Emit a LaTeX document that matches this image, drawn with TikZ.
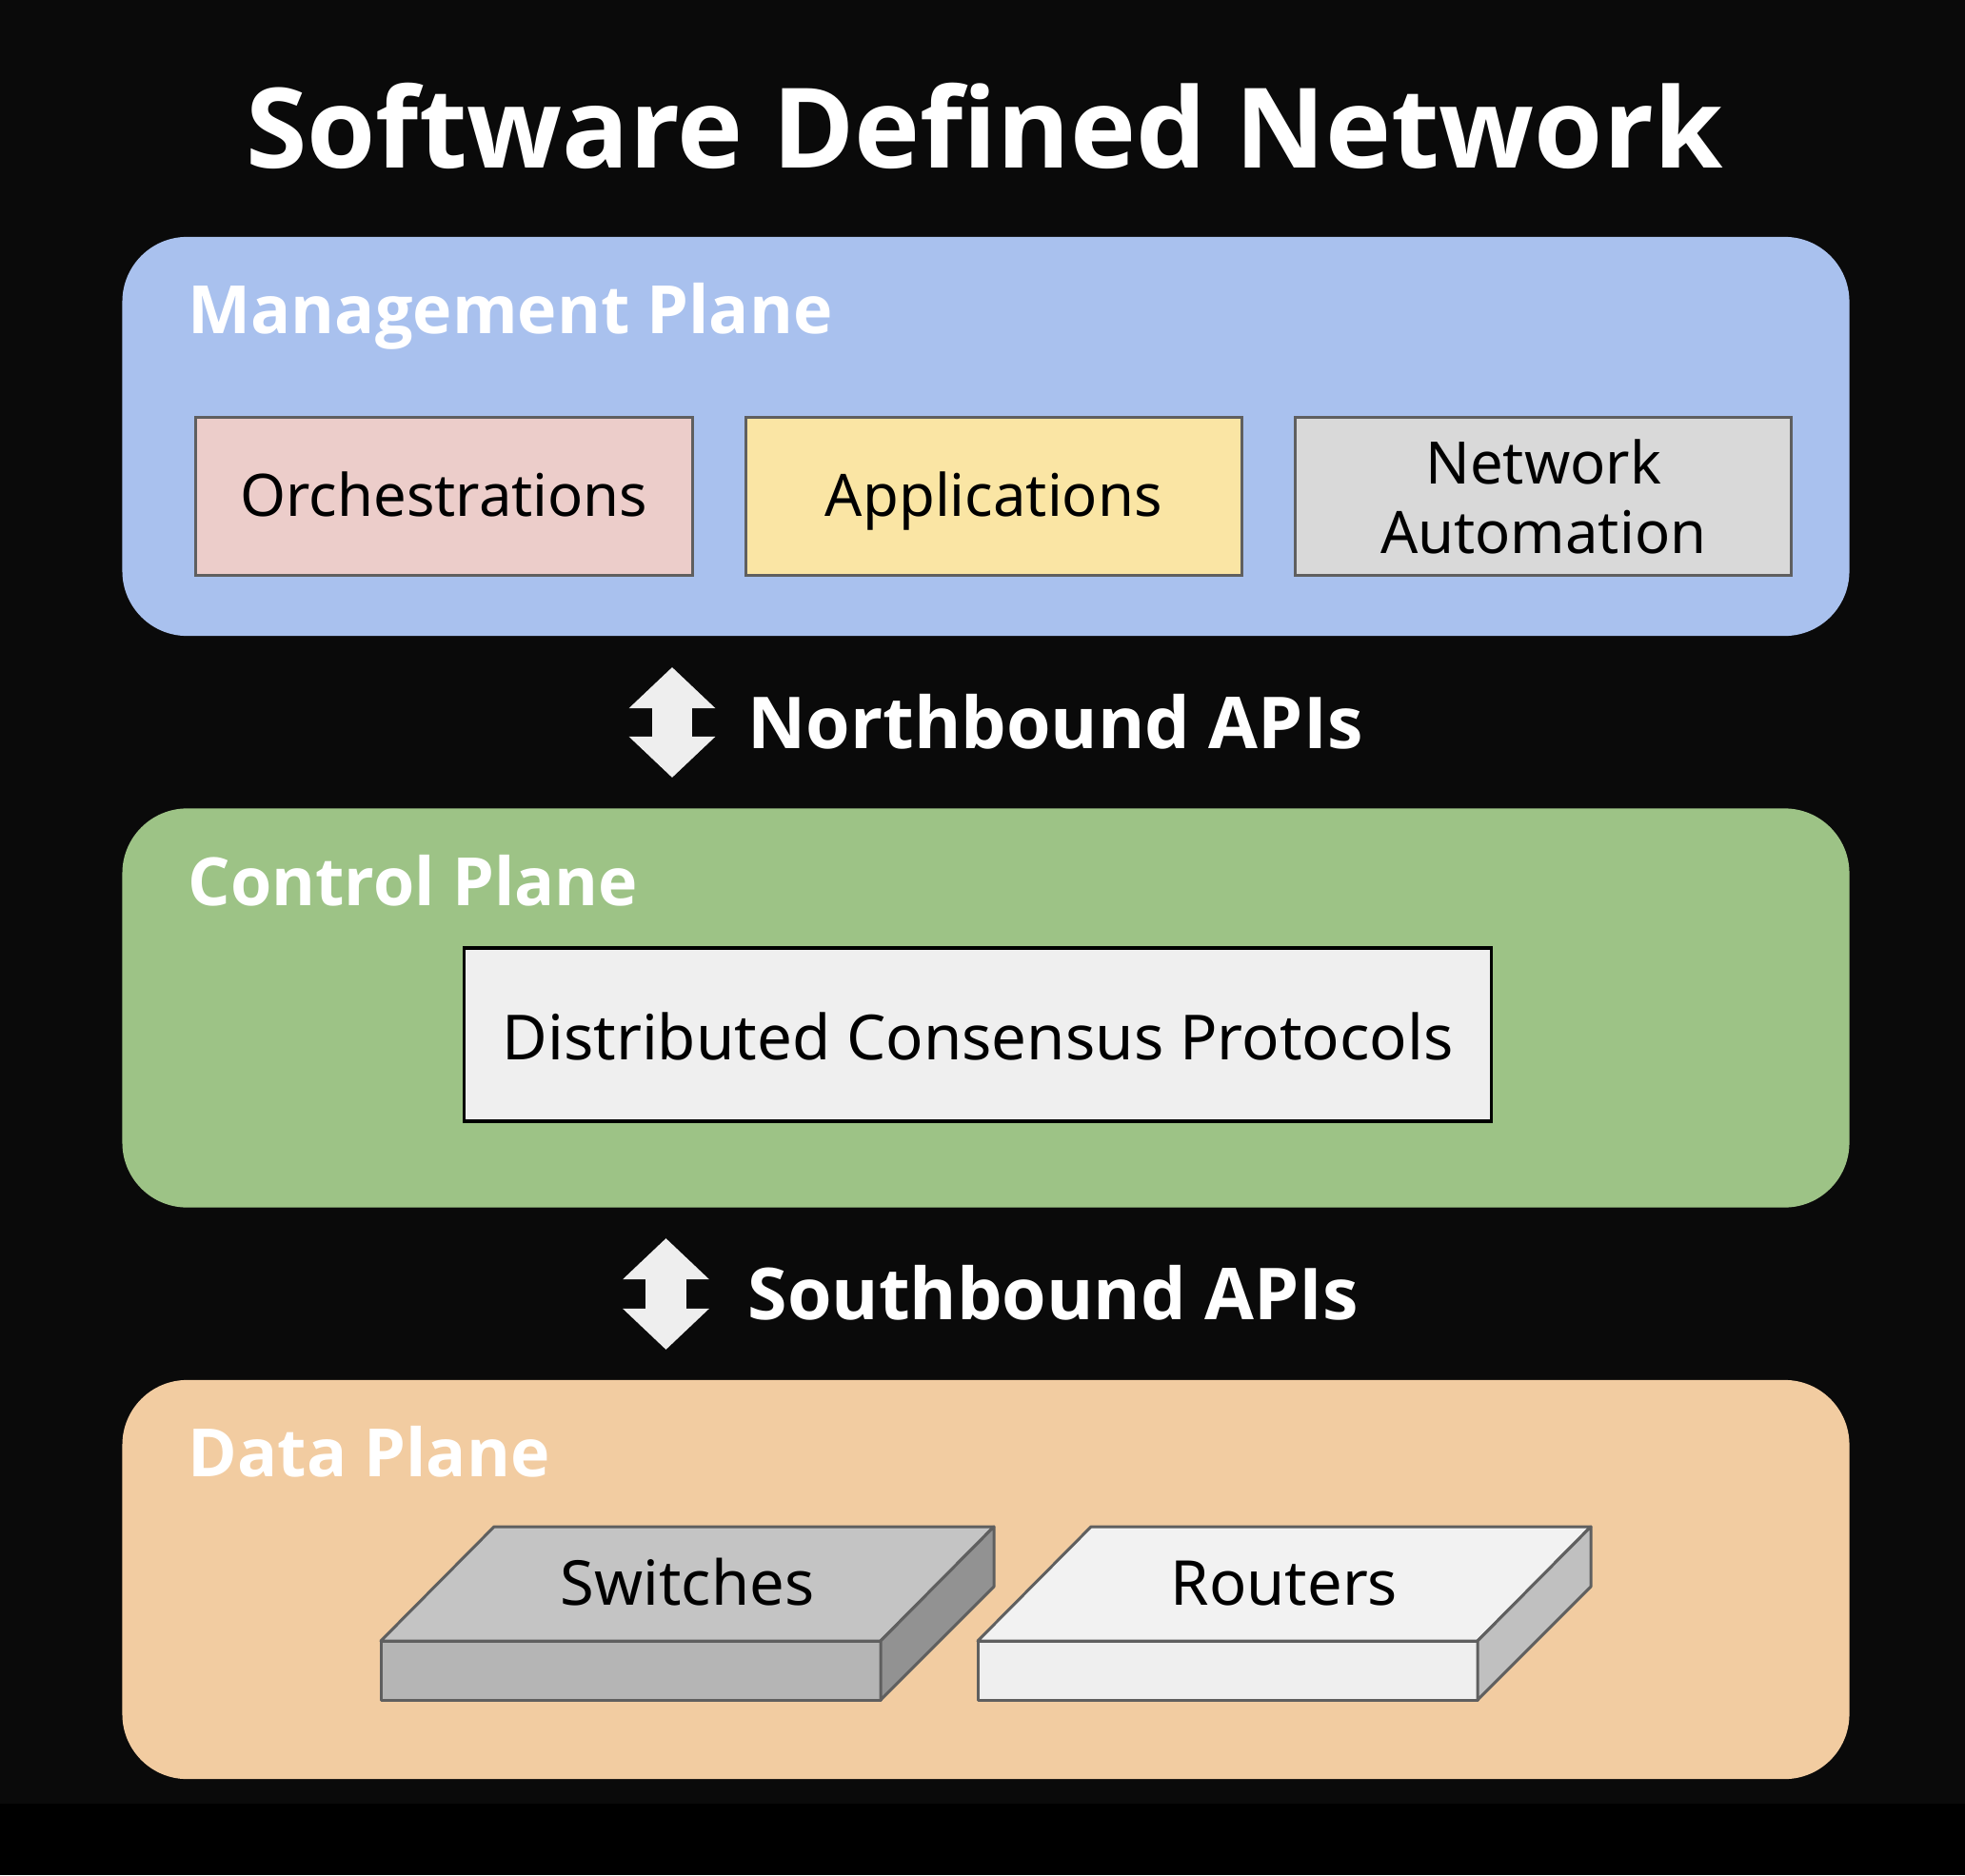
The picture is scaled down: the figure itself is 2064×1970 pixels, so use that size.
\documentclass[tikz,border=0pt]{standalone}
\usepackage{xcolor}
\usepackage{fontspec}
\setmainfont{Noto Sans}
\newfontfamily\headfont{Open Sans Bold}
\usepackage{tikz}
\usetikzlibrary{arrows.meta}
\usetikzlibrary{calc}
\usetikzlibrary{positioning}

\definecolor{bgdark}{HTML}{0A0A0A}
\definecolor{mgmtblue}{HTML}{A9C1EE}
\definecolor{ctrlgreen}{HTML}{9DC386}
\definecolor{databeige}{HTML}{F2CCA1}
\definecolor{orchpink}{HTML}{ECCDCA}
\definecolor{appyellow}{HTML}{FAE5A4}
\definecolor{netgray}{HTML}{D9D9D9}
\definecolor{protowhite}{HTML}{EFEFEF}
\definecolor{edgegray}{HTML}{5F5F5F}
\definecolor{apigray}{HTML}{EEEEEE}
\definecolor{swtop}{HTML}{C4C4C4}
\definecolor{swfront}{HTML}{B5B5B5}
\definecolor{swside}{HTML}{929292}
\definecolor{rttop}{HTML}{F2F2F2}
\definecolor{rtfront}{HTML}{EFEFEF}
\definecolor{rtside}{HTML}{C0C0C0}

\begin{document}
\begin{tikzpicture}[x=0.01cm,y=-0.01cm,>={Triangle[length=0.43cm,width=0.88cm]}]
  \tikzstyle{plane}=[rounded corners=0.68cm, minimum width=18.13cm, minimum height=4.19cm, inner sep=0pt]
  \tikzstyle{planelabel}=[anchor=base west, inner sep=0pt, text=white, font=\headfont\fontsize{19.9}{24}\selectfont]
  \tikzstyle{apilabel}=[anchor=base west, inner sep=0pt, text=white, font=\headfont\fontsize{21.4}{26}\selectfont]
  \tikzstyle{block}=[draw=edgegray, line width=0.85pt, minimum width=5.21cm, minimum height=1.65cm, inner sep=0pt, align=center, font=\fontsize{17.5}{20.8}\selectfont]
  \tikzstyle{oneline}=[text height=13.2pt, text depth=1pt]
  \tikzstyle{api}=[<->, line width=0.42cm, draw=apigray]
  \tikzstyle{devedge}=[draw=edgegray, line width=0.85pt, line join=round]
  \tikzstyle{devlabel}=[anchor=base, inner sep=0pt, font=\fontsize{18.5}{22}\selectfont]

  % background
  \fill[bgdark] (0,0) rectangle (2064,1895);
  \fill[black] (0,1895) rectangle (2064,1970);
  \useasboundingbox (0,0) rectangle (2064,1970);

  \node[anchor=base, inner sep=0pt, text=white, font=\headfont\fontsize{33.2}{40}\selectfont] (title) at (1034,177) {Software Defined Network};

  % planes
  \node[plane, fill=mgmtblue]  (mgmt) at (1035.5,458.5) {};
  \node[plane, fill=ctrlgreen] (ctrl) at (1035.5,1059) {};
  \node[plane, fill=databeige] (data) at (1035.5,1659.5) {};
  \node[planelabel] (mgmtlabel) at (197,351)  {Management Plane};
  \node[planelabel] (ctrllabel) at (197,951)  {Control Plane};
  \node[planelabel] (datalabel) at (197,1551) {Data Plane};

  % management plane
  \node[block, oneline, fill=orchpink] (orch) at (466.5,521.5) {Orchestrations};
  \node[block, oneline, fill=appyellow] (app) [right=0.53cm of orch] {Applications};
  \node[block, fill=netgray] (netauto) [right=0.53cm of app] {Network\\Automation};

  % control plane
  \node[block, fill=protowhite, draw=black, line width=1pt, minimum width=10.78cm, minimum height=1.82cm, text height=15.8pt, text depth=1pt, font=\fontsize{18.6}{22}\selectfont] (proto) at (1027,1087) {Distributed Consensus Protocols};

  % apis
  \coordinate (nbtop) at (706,701);
  \coordinate (nbbot) at (706,817);
  \coordinate (sbtop) at (699.5,1301);
  \coordinate (sbbot) at (699.5,1418);
  \draw[api] (nbtop) -- (nbbot);
  \draw[api] (sbtop) -- (sbbot);
  \node[apilabel] (nblabel) at (785,786)  {Northbound APIs};
  \node[apilabel] (sblabel) at (785,1386) {Southbound APIs};

  % data plane
  \coordinate (sw) at (400,1724);
  \coordinate (rt) at (1027,1724);
  \filldraw[devedge, fill=swtop] (sw) -- ++(119,-120) -- ++(525,0) -- ++(-119,120) -- cycle;
  \filldraw[devedge, fill=swfront] (sw) rectangle ++(525,62);
  \filldraw[devedge, fill=swside] ($(sw)+(525,0)$) -- ++(119,-120) -- ++(0,63) -- ++(-119,119) -- cycle;
  \filldraw[devedge, fill=rttop] (rt) -- ++(119,-120) -- ++(525,0) -- ++(-119,120) -- cycle;
  \filldraw[devedge, fill=rtfront] (rt) rectangle ++(525,62);
  \filldraw[devedge, fill=rtside] ($(rt)+(525,0)$) -- ++(119,-120) -- ++(0,63) -- ++(-119,119) -- cycle;
  \node[devlabel] (switches) at ($(sw)+(322,-38)$) {Switches};
  \node[devlabel] (routers) at ($(rt)+(322,-38)$) {Routers};
\end{tikzpicture}
\end{document}
